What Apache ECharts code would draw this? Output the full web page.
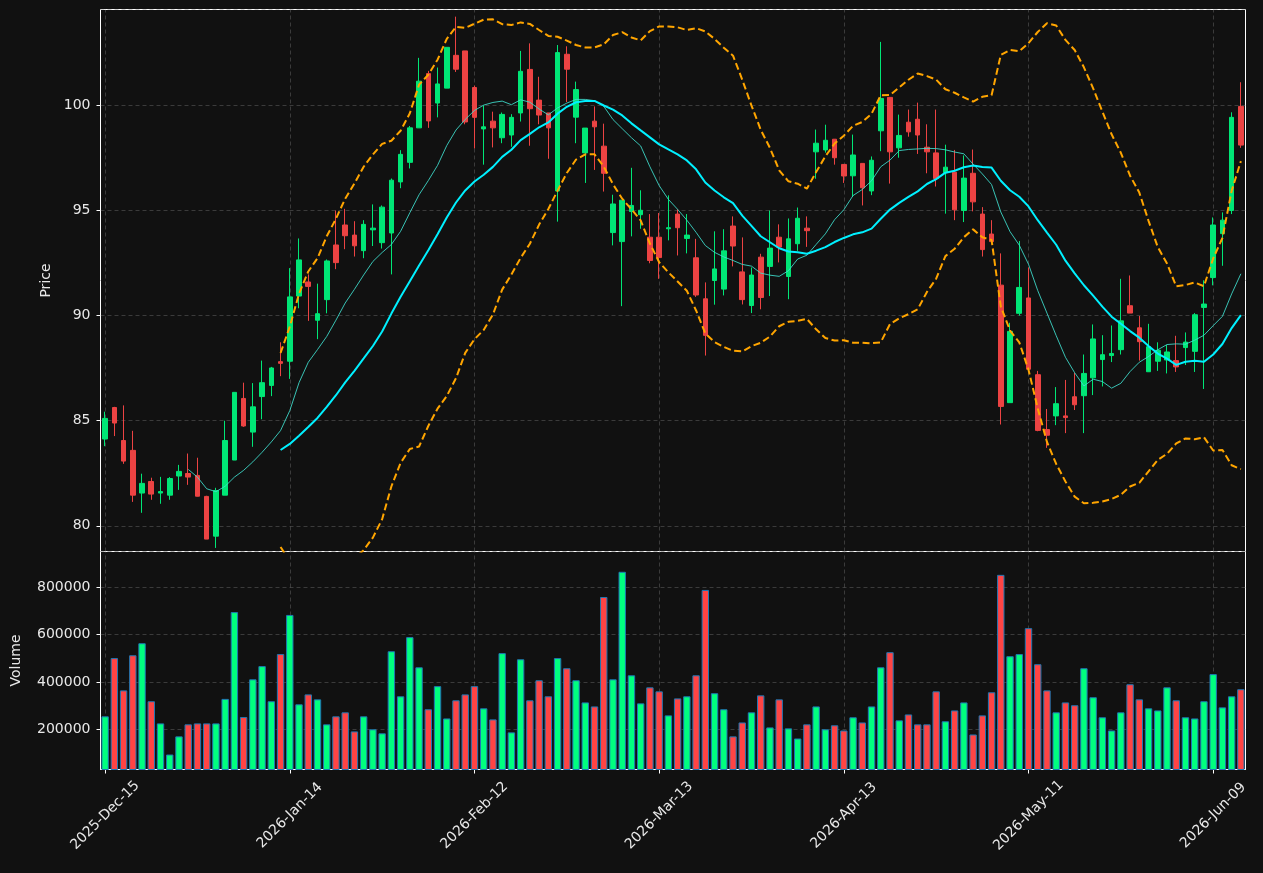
<!DOCTYPE html>
<html>
<head>
<meta charset="utf-8">
<script src="https://cdn.jsdelivr.net/npm/echarts@6/dist/echarts.min.js"></script>
<style>
html, body { margin: 0; padding: 0; background: #111111; }
#chart { width: 1263px; height: 873px; }
</style>
</head>
<body>
<div id="chart"></div>
<script>
// x positions of the date labels (trading day index) and their text
var tickIdx = [0, 20, 40, 60, 80, 100, 120];
var tickLabels = ['2025-Dec-15', '2026-Jan-14', '2026-Feb-12', '2026-Mar-13', '2026-Apr-13', '2026-May-11', '2026-Jun-09'];

var opens = [84.13,85.63,84.06,83.59,81.56,82.11,81.56,81.46,82.37,82.49,
  82.40,81.40,79.51,81.46,83.13,86.06,84.46,86.15,86.68,87.81,
  87.83,90.93,91.60,89.78,90.76,93.36,94.31,93.83,93.09,94.08,
  93.47,93.93,96.36,97.29,98.93,101.51,100.11,100.82,102.38,102.59,
  100.85,98.88,99.25,98.46,98.59,99.64,101.71,100.25,99.64,95.93,
  102.43,99.44,97.74,99.25,98.06,93.95,93.52,94.95,94.80,93.73,
  93.73,94.13,94.83,93.67,92.75,90.80,91.67,91.26,94.26,92.08,
  90.48,92.78,92.34,93.73,91.86,93.42,94.16,97.79,97.88,98.39,
  97.19,96.65,97.24,95.93,98.79,100.38,97.98,99.20,99.34,98.01,
  97.74,96.80,96.82,95.00,96.77,94.83,93.88,91.45,85.86,90.11,
  90.84,87.19,84.58,85.23,85.23,86.14,86.19,87.04,87.91,88.10,
  88.38,90.47,89.42,87.33,87.83,87.89,87.86,88.48,88.30,90.39,
  91.81,93.90,95.00,99.95];
var closes = [85.11,84.89,83.08,81.46,82.02,81.51,81.63,82.25,82.59,82.32,
  81.41,79.37,81.68,84.06,86.35,84.75,85.66,86.81,87.51,87.73,
  90.89,92.65,91.39,90.09,92.60,92.52,93.80,93.32,94.34,94.16,
  95.16,96.44,97.67,98.93,101.15,99.26,101.02,102.76,101.72,99.21,
  99.43,98.98,98.93,99.57,99.43,101.62,99.84,99.54,98.93,102.51,
  101.72,100.75,98.92,98.98,96.77,95.31,95.49,95.24,95.01,92.62,
  92.76,94.18,94.18,93.83,90.98,89.06,92.22,93.08,93.31,90.76,
  91.93,90.86,93.21,93.26,93.65,94.63,94.04,98.20,98.34,97.51,
  96.64,97.64,96.08,97.39,100.33,97.79,98.57,98.74,98.59,97.79,
  96.52,97.06,95.03,96.54,95.41,93.14,93.52,85.68,89.25,91.34,
  87.45,84.54,84.31,85.81,85.15,85.76,87.25,88.89,88.14,88.20,
  89.75,90.12,88.76,88.52,88.35,88.27,87.56,88.74,90.04,90.55,
  94.31,94.54,99.43,98.11];
var lows = [83.79,84.27,82.95,81.14,80.62,81.24,81.05,81.24,81.71,81.95,
  81.40,79.37,78.95,81.46,83.13,84.71,83.76,85.07,86.17,87.12,
  86.99,90.35,89.75,88.88,90.11,92.21,93.16,92.81,92.73,93.31,
  93.19,91.96,96.06,97.00,98.93,98.93,99.43,100.82,101.59,99.10,
  97.95,97.18,98.00,98.20,98.03,99.23,98.08,99.10,97.46,94.47,
  100.16,98.20,96.31,96.93,95.90,93.34,90.45,93.77,94.13,92.49,
  91.75,93.58,92.86,92.96,90.89,88.10,90.52,90.96,92.34,90.53,
  90.12,90.30,90.93,92.53,90.78,93.08,93.27,96.51,97.75,97.18,
  96.31,95.65,95.24,95.73,97.82,96.28,97.51,98.51,97.69,96.77,
  96.14,94.85,94.54,94.45,94.96,92.81,93.52,84.82,85.86,90.00,
  87.45,84.50,83.71,84.79,84.41,85.51,84.41,86.22,86.63,87.79,
  88.15,90.12,87.86,87.33,87.37,87.25,87.32,87.65,87.32,86.51,
  91.44,92.37,94.83,97.98];
var highs = [85.43,85.66,85.73,84.52,82.48,82.29,82.33,82.32,82.90,83.44,
  83.24,81.43,81.81,85.00,86.35,86.81,86.79,87.86,87.56,88.73,
  92.26,93.67,91.96,91.52,92.67,95.00,95.08,94.49,94.54,95.29,
  95.24,96.52,97.87,99.02,102.26,101.64,101.80,102.76,104.22,102.59,
  100.94,100.00,99.70,99.66,99.58,102.59,102.95,101.36,99.64,102.87,
  102.81,101.13,98.92,99.95,99.13,95.75,95.49,97.03,95.96,94.83,
  94.88,95.72,95.06,94.83,93.65,91.58,94.01,94.11,94.72,93.72,
  92.29,92.94,95.00,94.34,94.62,95.14,94.72,98.85,99.08,98.39,
  97.19,98.61,97.24,97.57,103.02,100.38,99.56,99.80,100.13,99.10,
  99.80,98.13,97.88,97.62,97.90,95.16,94.54,92.96,89.66,93.55,
  92.29,87.37,85.56,86.60,86.94,87.28,88.15,89.58,89.07,89.53,
  91.75,91.91,89.98,89.61,88.73,88.60,89.04,89.20,90.12,91.68,
  94.67,94.91,99.67,101.10];
var volumes = [254000,501000,364000,513000,564000,318000,224000,92000,169000,220000,
  224000,224000,224000,328000,696000,251000,411000,467000,318000,518000,
  684000,305000,347000,326000,220000,254000,271000,190000,254000,199000,
  182000,530000,339000,590000,462000,284000,382000,245000,322000,347000,
  382000,288000,241000,522000,186000,496000,322000,407000,339000,501000,
  458000,407000,313000,296000,760000,411000,867000,428000,309000,377000,
  360000,258000,330000,339000,428000,790000,352000,284000,169000,228000,
  271000,343000,207000,326000,203000,160000,220000,296000,199000,216000,
  194000,250000,228000,296000,462000,526000,237000,262000,220000,220000,
  360000,233000,279000,313000,177000,258000,356000,854000,509000,518000,
  628000,475000,364000,271000,313000,301000,458000,335000,250000,194000,
  271000,390000,326000,288000,279000,377000,322000,250000,245000,318000,
  433000,292000,339000,369000];

var UP = '#00e676', DOWN = '#ec4343';
var VOL_UP = '#00ff7f', VOL_DOWN = '#ff4444';
var FONT = 'DejaVu Sans';
var TXT = '#e8e8e8';
var GRIDC = 'rgba(128,128,128,0.38)';

// moving average and bollinger bands from the closes
function sma(src, n) {
  return src.map(function (v, i) {
    if (i < n - 1) return null;
    var s = 0;
    for (var k = i - n + 1; k <= i; k++) s += src[k];
    return s / n;
  });
}
function band(src, n, mult, sign) {
  var mid = sma(src, n);
  return src.map(function (v, i) {
    if (mid[i] === null) return null;
    var s = 0;
    for (var k = i - n + 1; k <= i; k++) s += Math.pow(src[k] - mid[i], 2);
    return mid[i] + sign * mult * Math.sqrt(s / n);
  });
}

var cats = closes.map(function (v, i) { return String(i); });
var ohlc = opens.map(function (o, i) { return [o, closes[i], lows[i], highs[i]]; });
var vol = volumes.map(function (v, i) {
  return { value: v, itemStyle: { color: closes[i] >= opens[i] ? VOL_UP : VOL_DOWN } };
});
var sma10 = sma(closes, 10);
var sma20 = sma(closes, 20);
var bbUp = band(closes, 20, 2, 1);
var bbLow = band(closes, 20, 2, -1);

function isTick(index) { return tickIdx.indexOf(index) >= 0; }
var vLines = {
  silent: true, symbol: ['none', 'none'], z: 1, animation: false,
  label: { show: false },
  lineStyle: { color: GRIDC, type: [4, 3], width: 1 },
  data: tickIdx.map(function (i) { return { xAxis: i }; })
};

var chart = echarts.init(document.getElementById('chart'));
var option = {
  backgroundColor: '#111111',
  animation: false,
  grid: [
    { left: 100.5, top: 9.5, width: 1145, height: 542, show: true, borderColor: '#ffffff', borderWidth: 1, containLabel: false },
    { left: 100.5, top: 551.5, width: 1145, height: 218, show: true, borderColor: '#ffffff', borderWidth: 1, containLabel: false }
  ],
  xAxis: [
    { type: 'category', gridIndex: 0, data: cats, boundaryGap: true,
      axisLine: { show: false }, axisTick: { show: false }, axisLabel: { show: false }, splitLine: { show: false } },
    { type: 'category', gridIndex: 1, data: cats, boundaryGap: true,
      axisLine: { show: true, lineStyle: { color: '#ffffff' } },
      axisTick: { show: true, alignWithLabel: true, interval: isTick, length: 4, lineStyle: { color: '#ffffff' } },
      axisLabel: {
        show: true, interval: isTick, rotate: 45, align: 'center', verticalAlign: 'middle', margin: 46,
        color: TXT, fontSize: 14, fontFamily: FONT,
        formatter: function (v, index) { var k = tickIdx.indexOf(index); return k >= 0 ? tickLabels[k] : ''; }
      },
      splitLine: { show: false } }
  ],
  yAxis: [
    { type: 'value', gridIndex: 0, min: 78.78, max: 104.56, splitNumber: 5, scale: true,
      name: 'Price', nameLocation: 'middle', nameGap: 47,
      nameTextStyle: { color: TXT, fontSize: 14, fontFamily: FONT },
      axisLine: { show: false },
      axisTick: { show: true, length: 4, lineStyle: { color: '#ffffff' } },
      axisLabel: {
        color: TXT, fontSize: 14, fontFamily: FONT, margin: 10, showMinLabel: false, showMaxLabel: false,
        formatter: function (v) { return Math.abs(v / 5 - Math.round(v / 5)) < 1e-6 ? String(Math.round(v)) : ''; }
      },
      splitLine: { show: true, lineStyle: { color: GRIDC, type: [4, 3], width: 1 } } },
    { type: 'value', gridIndex: 1, min: 28500, max: 953000, splitNumber: 5,
      name: 'Volume', nameLocation: 'middle', nameGap: 77,
      nameTextStyle: { color: TXT, fontSize: 14, fontFamily: FONT },
      axisLine: { show: false },
      axisTick: { show: true, length: 4, lineStyle: { color: '#ffffff' } },
      axisLabel: {
        color: TXT, fontSize: 14, fontFamily: FONT, margin: 10, showMinLabel: false, showMaxLabel: false,
        formatter: function (v) { return (v > 0 && Math.abs(v / 200000 - Math.round(v / 200000)) < 1e-6) ? String(Math.round(v)) : ''; }
      },
      splitLine: { show: true, lineStyle: { color: GRIDC, type: [4, 3], width: 1 } } }
  ],
  series: [
    { name: 'OHLC', type: 'candlestick', xAxisIndex: 0, yAxisIndex: 0, data: ohlc, barWidth: '55%',
      itemStyle: { color: UP, color0: DOWN, borderColor: UP, borderColor0: DOWN, borderWidth: 1 },
      markLine: vLines },
    { name: 'BB Upper', type: 'line', xAxisIndex: 0, yAxisIndex: 0, data: bbUp, symbol: 'none', clip: true,
      lineStyle: { color: '#ffa500', width: 2, type: [7, 3.5] }, z: 3 },
    { name: 'BB Lower', type: 'line', xAxisIndex: 0, yAxisIndex: 0, data: bbLow, symbol: 'none', clip: true,
      lineStyle: { color: '#ffa500', width: 2, type: [7, 3.5] }, z: 3 },
    { name: 'SMA10', type: 'line', xAxisIndex: 0, yAxisIndex: 0, data: sma10, symbol: 'none', clip: true,
      lineStyle: { color: '#40e0d0', width: 1, opacity: 0.85 }, z: 3 },
    { name: 'SMA20', type: 'line', xAxisIndex: 0, yAxisIndex: 0, data: sma20, symbol: 'none', clip: true,
      lineStyle: { color: '#00f0ff', width: 2 }, z: 3 },
    { name: 'Volume', type: 'bar', xAxisIndex: 1, yAxisIndex: 1, data: vol, barWidth: '80%',
      itemStyle: { borderColor: '#1f77b4', borderWidth: 1 },
      markLine: vLines }
  ]
};
chart.setOption(option);
</script>
</body>
</html>
